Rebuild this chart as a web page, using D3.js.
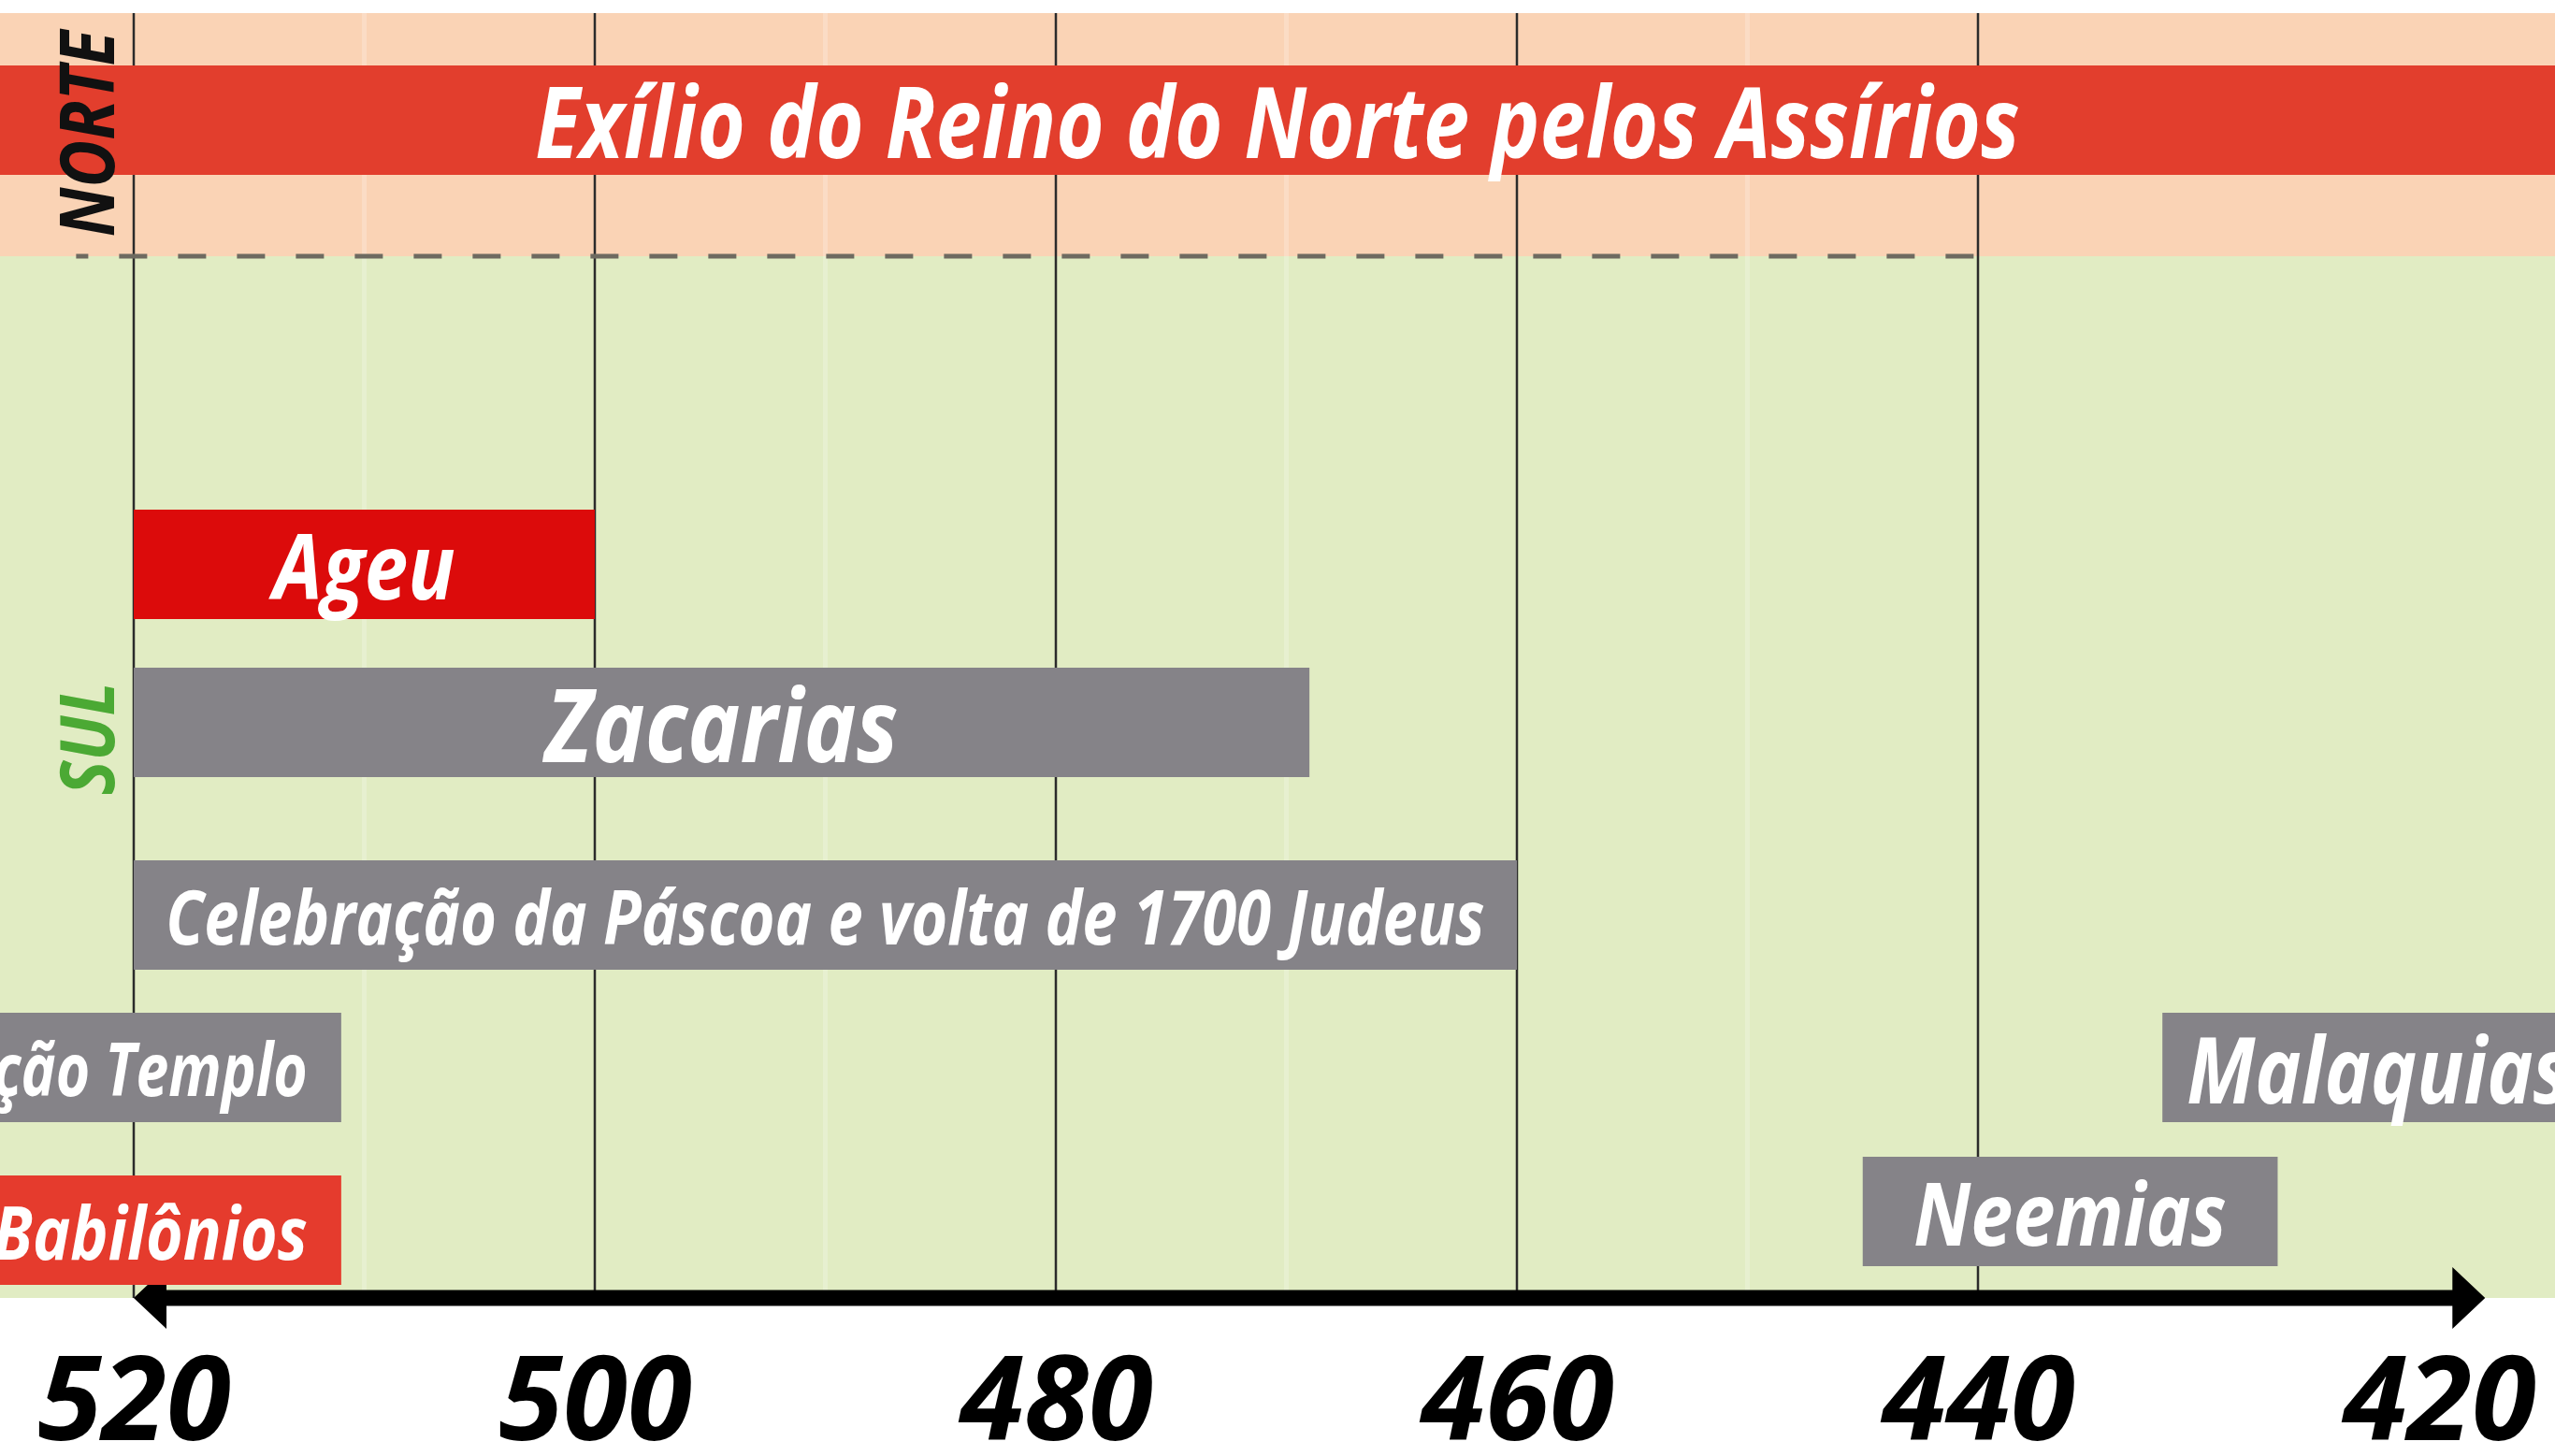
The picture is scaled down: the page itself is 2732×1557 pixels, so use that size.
<!DOCTYPE html>
<html>
<head>
<meta charset="utf-8">
<script src="https://cdn.jsdelivr.net/npm/d3@7"></script>
<style>
  body { margin: 0; background: #fff; }
  text { font-family: 'Open Sans', 'Noto Sans', sans-serif; font-weight: 700; font-style: italic; }
</style>
</head>
<body>
<div id="timeline"></div>
<script>
// events on the timeline (years a.C.)
var eventNames = ['Exílio do Reino do Norte pelos Assírios', 'Ageu', 'Zacarias',
  'Celebração da Páscoa e volta de 1700 Judeus', 'Reconstrução Templo', 'Malaquias',
  'Neemias', 'Exílio do Reino do Sul pelos Babilônios'];
var eventStart = [722, 520, 520, 520, 536, 432, 445, 586];
var eventEnd   = [400, 500, 469, 460, 511, 400, 427, 511];
var eventLane  = ['norte', 'ageu', 'zacarias', 'pascoa', 'templo', 'templo', 'neemias', 'babilonia'];
var eventKind  = ['assiria', 'ageu', 'profeta', 'profeta', 'profeta', 'profeta', 'profeta', 'babilonia'];

// axis years
var majorYears = [520, 500, 480, 460, 440];
var minorYears = [510, 490, 470, 450];
var tickYears  = [520, 500, 480, 460, 440, 420];
var arrowYears = [520, 418];
var regionNames = ['NORTE', 'SUL'];

var svgWidth = 2732,
  svgHeight = 1557;

var events = eventNames.map((n, i) => ({
  name: n, start: eventStart[i], end: eventEnd[i], lane: eventLane[i], kind: eventKind[i]
}));

// scales
var x = d3.scaleLinear()
  .domain([520, 420])
  .range([143, 2608]);

var laneY = d3.scaleOrdinal()
  .domain(['norte', 'ageu', 'zacarias', 'pascoa', 'templo', 'neemias', 'babilonia'])
  .range([70, 545, 714, 920, 1083, 1237, 1257]);
var barH = 117;

var kindColor = d3.scaleOrdinal()
  .domain(['assiria', 'ageu', 'profeta', 'babilonia'])
  .range(['#e23e2d', '#dc0b0b', '#858388', '#e53b2d']);

//font size and horizontal squeeze of each label (the original type is a narrow one)
var labelSize = d3.scaleOrdinal()
  .domain(eventNames)
  .range([105, 97, 110, 80, 78, 99, 94, 79]);
var labelSqueeze = d3.scaleOrdinal()
  .domain(eventNames)
  .range([0.84, 0.86, 0.86, 0.835, 0.8, 0.84, 0.86, 0.86]);

var norteTop = 14, sulTop = 274, axisY = 1388;

var svg = d3.select('#timeline')
  .append('svg')
  .attr('width', svgWidth)
  .attr('height', svgHeight)
  .style('display', 'block');

svg.append('rect')
  .attr('width', svgWidth)
  .attr('height', svgHeight)
  .attr('fill', '#fff');

// the two kingdom bands
svg.append('rect')
  .attr('x', 0).attr('y', norteTop)
  .attr('width', svgWidth).attr('height', sulTop - norteTop)
  .attr('fill', '#fad3b5');
svg.append('rect')
  .attr('x', 0).attr('y', sulTop)
  .attr('width', svgWidth).attr('height', axisY - sulTop)
  .attr('fill', '#e1ecc3');

// grid lines, light ones every 10 years, dark every 20
svg.append('g').selectAll('line')
  .data(minorYears)
  .enter()
  .append('line')
  .attr('x1', d => x(d)).attr('x2', d => x(d))
  .attr('y1', norteTop).attr('y2', axisY)
  .attr('stroke', '#fff')
  .attr('stroke-opacity', 0.22)
  .attr('stroke-width', 5);

svg.append('g').selectAll('line')
  .data(majorYears)
  .enter()
  .append('line')
  .attr('x1', d => x(d)).attr('x2', d => x(d))
  .attr('y1', norteTop).attr('y2', axisY)
  .attr('stroke', '#2b2b2b')
  .attr('stroke-width', 2.5);

// dashed border between norte and sul
svg.append('line')
  .attr('x1', x(522.5)).attr('x2', x(440))
  .attr('y1', sulTop).attr('y2', sulTop)
  .attr('stroke', '#6e6a60')
  .attr('stroke-width', 5)
  .attr('stroke-dasharray', '30 33')
  .attr('stroke-dashoffset', 17);

// axis arrow
var a0 = x(arrowYears[0]), a1 = x(arrowYears[1]),
  half = 8.5, headLen = 35, headHalf = 33;
svg.append('path')
  .attr('d', `M${a0},${axisY} L${a0 + headLen},${axisY - headHalf} L${a0 + headLen},${axisY - half}
    L${a1 - headLen},${axisY - half} L${a1 - headLen},${axisY - headHalf} L${a1},${axisY}
    L${a1 - headLen},${axisY + headHalf} L${a1 - headLen},${axisY + half}
    L${a0 + headLen},${axisY + half} L${a0 + headLen},${axisY + headHalf} Z`)
  .attr('fill', '#000');

// bars, clipped to the page
function visX0(d) { return Math.max(0, x(d.start)); }
function visX1(d) { return Math.min(svgWidth, x(d.end)); }

svg.append('g').selectAll('rect')
  .data(events)
  .enter()
  .append('rect')
  .attr('x', d => visX0(d))
  .attr('y', d => laneY(d.lane))
  .attr('width', d => visX1(d) - visX0(d))
  .attr('height', barH)
  .attr('fill', d => kindColor(d.kind));

// labels: centred, or pushed to the visible end when the bar runs off the page
function labelPos(d) {
  var cutLeft = x(d.start) < 0, cutRight = x(d.end) > svgWidth;
  if (cutLeft && !cutRight) return { x: visX1(d) - 36, anchor: 'end' };
  if (cutRight && !cutLeft) return { x: visX0(d) + 26, anchor: 'start' };
  return { x: (visX0(d) + visX1(d)) / 2, anchor: 'middle' };
}

svg.append('g').selectAll('text')
  .data(events)
  .enter()
  .append('text')
  .attr('text-anchor', d => labelPos(d).anchor)
  .attr('transform', d => {
    var p = labelPos(d),
      base = laneY(d.lane) + barH / 2 + 0.357 * labelSize(d.name) + 3;
    return `translate(${p.x},${base}) scale(${labelSqueeze(d.name)},1)`;
  })
  .attr('font-size', d => labelSize(d.name))
  .attr('fill', '#fff')
  .text(d => d.name);

// NORTE / SUL side labels
var regionY = d3.scaleOrdinal().domain(regionNames).range([143, 790]);
var regionColor = d3.scaleOrdinal().domain(regionNames).range(['#111', '#4ba934']);
svg.append('g').selectAll('text')
  .data(regionNames)
  .enter()
  .append('text')
  .attr('text-anchor', 'middle')
  .attr('transform', d => `translate(122,${regionY(d)}) rotate(-90) scale(0.87,1)`)
  .attr('font-size', 80)
  .attr('font-weight', 800)
  .attr('fill', d => regionColor(d))
  .text(d => d);

// year labels
var xAxis = d3.axisBottom(x)
  .tickValues(tickYears)
  .tickSize(0)
  .tickFormat(d3.format('d'));

var axisG = svg.append('g')
  .attr('transform', `translate(0,${axisY})`)
  .call(xAxis);
axisG.select('.domain').remove();
axisG.selectAll('text')
  .attr('y', 152)
  .attr('dy', 0)
  .attr('font-family', null)
  .attr('font-size', 125)
  .attr('font-weight', 800)
  .attr('fill', '#000');
</script>
</body>
</html>
